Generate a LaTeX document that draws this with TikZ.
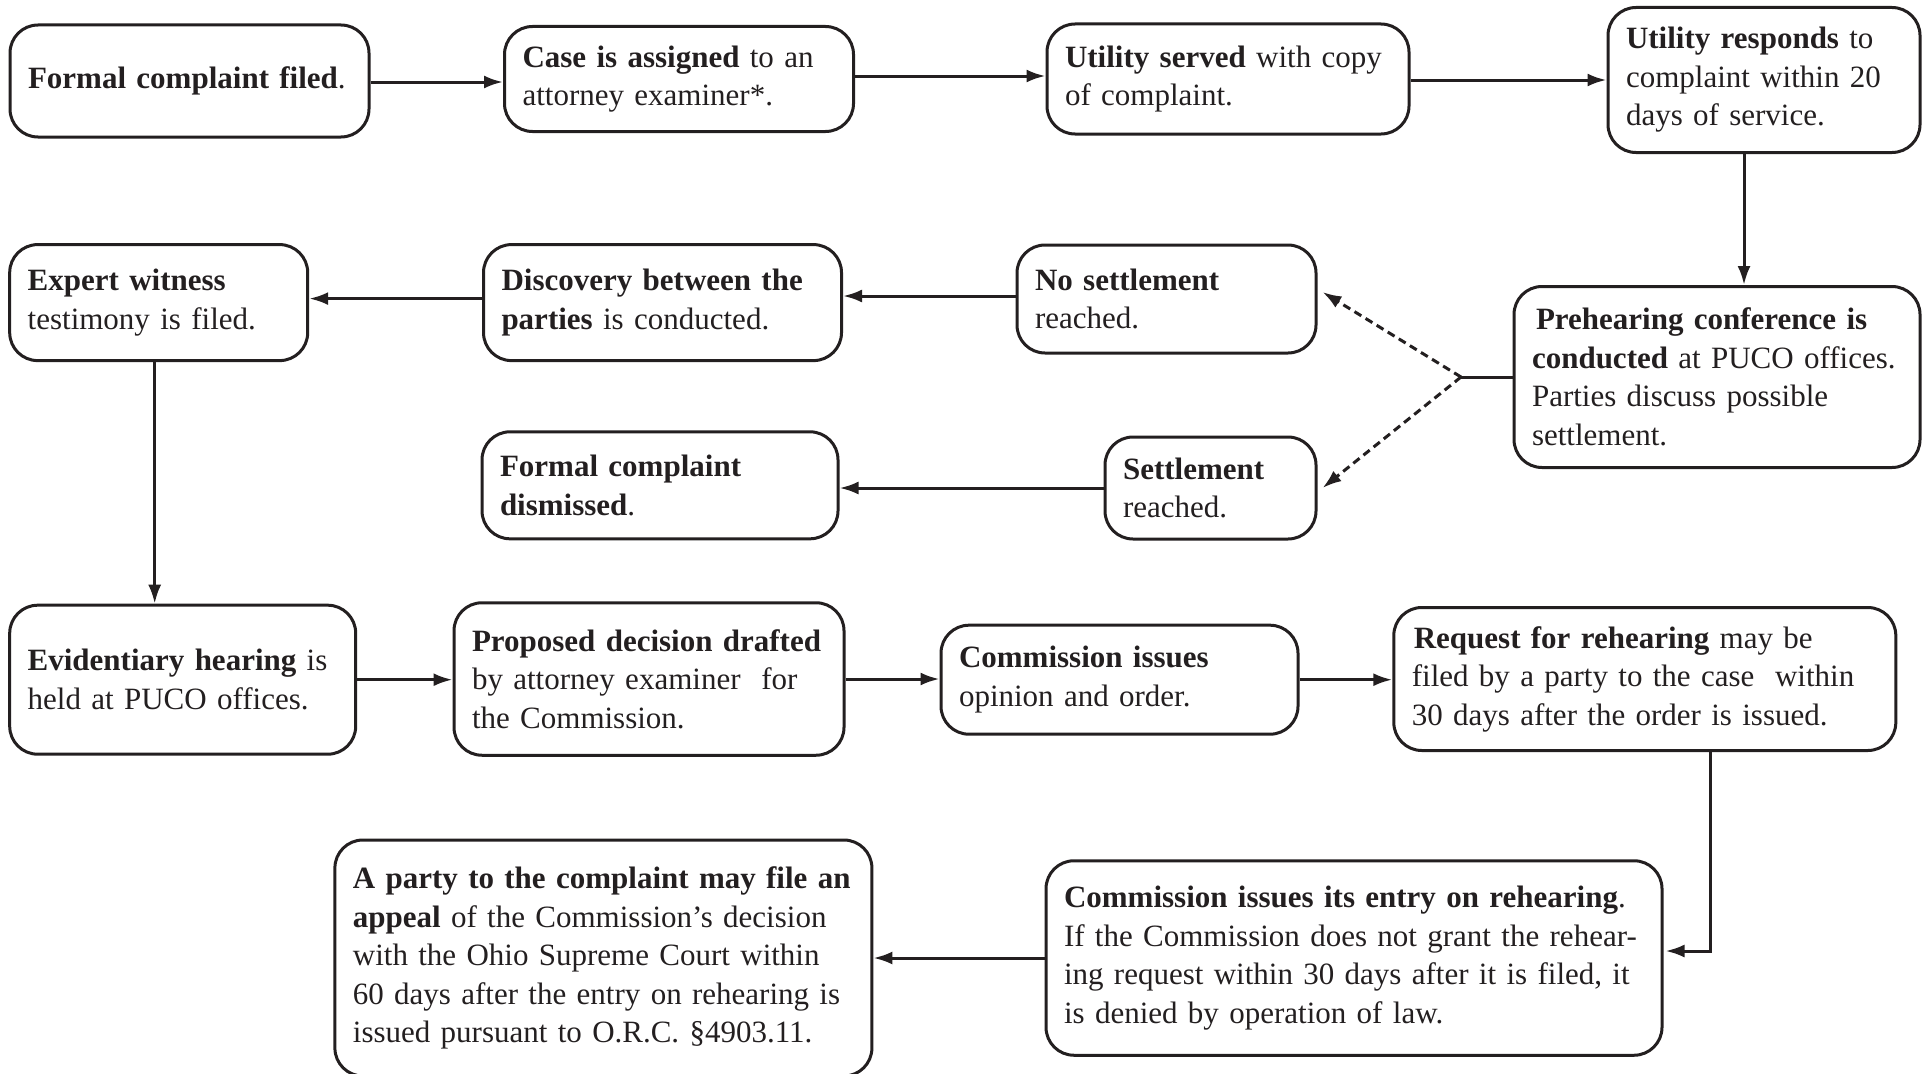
\documentclass[tikz,border=0pt]{standalone}
\usepackage{fontspec}
\setmainfont{Liberation Serif}
\usetikzlibrary{arrows.meta,calc}
\definecolor{ink}{HTML}{231F20}
\tikzset{
  box/.style={draw=ink, line width=3pt, rounded corners=28pt, align=left,
    inner xsep=18pt, inner ysep=0pt, text=ink,
    font=\fontsize{31}{38.5}\selectfont},
  conn/.style={draw=ink, line width=3pt, -{Latex[length=19pt,width=13pt]}},
  dconn/.style={conn, dash pattern=on 8pt off 5pt},
  plain/.style={draw=ink, line width=3pt}
}
\newcommand{\bx}[6]{\node[box, text width=#4pt-36pt, minimum height=#5pt] (#1) at (#2,#3) {#6};}
\begin{document}
\begin{tikzpicture}[x=1pt,y=-1pt]
\useasboundingbox (0,0) rectangle (1929,1073);
\clip (0,0) rectangle (1929,1073);
% row 1
\bx{b1}{189.5}{81}{359}{112}{\textbf{Formal complaint filed}.}
\bx{b2}{679}{79}{349}{105}{\textbf{Case is assigned} to an\\attorney examiner*.}
\bx{b3}{1228}{79}{362}{110}{\textbf{Utility served} with copy\\of complaint.}
\bx{b4}{1764}{80}{312}{145}{\textbf{Utility responds} to\\complaint within 20\\days of service.}
% row 2/3
\bx{b5}{1717}{377}{406}{181}{\hspace*{4pt}\textbf{Prehearing~conference~is}\\\textbf{conducted}~at~PUCO~offices.\\Parties discuss possible\\settlement.}
\bx{b6}{1166.5}{299}{299}{108}{\textbf{No settlement}\\reached.}
\bx{b7}{1210.5}{488}{211}{102}{\textbf{Settlement}\\reached.}
\bx{b8}{662.5}{302.6}{358}{116}{\textbf{Discovery~between~the}\\\textbf{parties} is conducted.}
\bx{b9}{158.7}{302.6}{298}{116}{\textbf{Expert witness}\\testimony is filed.}
\bx{b10}{660}{485.3}{356}{107}{\textbf{Formal complaint}\\\textbf{dismissed}.}
% row 4
\bx{b11}{182.7}{679.7}{346}{149}{\textbf{Evidentiary~hearing}~is\\held at PUCO offices.}
\bx{b12}{649}{679}{390}{152.5}{\textbf{Proposed~decision~drafted}\\by attorney examiner\ \ for\\the Commission.}
\bx{b13}{1119.5}{679.7}{357}{109}{\textbf{Commission issues}\\opinion and order.}
\bx{b14}{1644.8}{679}{502}{143}{\hspace*{2pt}\textbf{Request~for~rehearing}~may~be\\filed~by~a~party~to~the~case\ \ within\\30~days~after~the~order~is~issued.}
% row 5
\bx{b15}{1354}{958}{616}{194.5}{\textbf{Commission~issues~its~entry~on~rehearing}.\\If~the~Commission~does~not~grant~the~rehear-\\ing~request~within~30~days~after~it~is~filed,~it\\is denied by operation of law.}
\bx{b16}{603.4}{958}{537}{236}{\textbf{A~party~to~the~complaint~may~file~an}\\\textbf{appeal}~of~the~Commission's~decision\\with~the~Ohio~Supreme~Court~within\\60~days~after~the~entry~on~rehearing~is\\issued~pursuant~to~O.R.C.~§4903.11.}
% connectors
\draw[conn] ([yshift=-1pt]b1.east) -- ([yshift=-1pt]b1.east -| b2.west);
\draw[conn] ([yshift=3pt]b2.east) -- ([yshift=3pt]b2.east -| b3.west);
\draw[conn] ([yshift=-1pt]b3.east) -- ([yshift=-1pt]b3.east -| b4.west);
\draw[conn] ([xshift=-20pt]b4.south) -- ([xshift=-20pt]b4.south |- b5.north);
\coordinate (sp) at (1461,377);
\draw[plain] (b5.west) -- (sp);
\draw[dconn] (sp) -- ([xshift=5pt,yshift=7pt]b6.east);
\draw[dconn] (sp) -- ([xshift=5pt]b7.east);
\draw[conn] ([yshift=3pt]b6.west) -- ([yshift=3pt]b6.west -| b8.east);
\draw[conn] ([yshift=4pt]b8.west) -- ([yshift=4pt]b8.west -| b9.east);
\draw[conn] (b7.west) -- (b7.west -| b10.east);
\draw[conn] ([xshift=-4pt]b9.south) -- ([xshift=-4pt]b9.south |- b11.north);
\draw[conn] (b11.east) -- (b11.east -| b12.west);
\draw[conn] (b12.east) -- (b12.east -| b13.west);
\draw[conn] (b13.east) -- (b13.east -| b14.west);
\draw[conn] ([xshift=66pt]b14.south) |- ([xshift=2pt,yshift=7pt]b15.east);
\draw[conn] (b15.west) -- (b15.west -| b16.east);
\end{tikzpicture}
\end{document}
